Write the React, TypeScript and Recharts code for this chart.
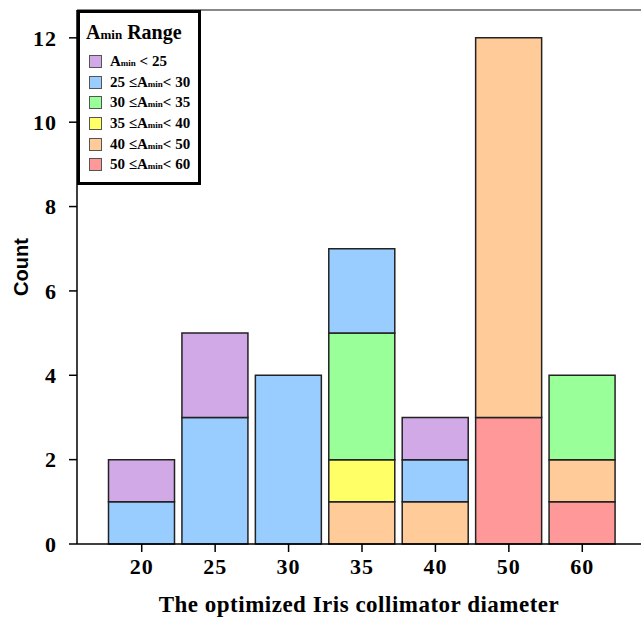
import React from 'react';
import {
  BarChart,
  Bar,
  XAxis,
  YAxis,
  Legend,
  ReferenceLine,
} from 'recharts';

const diameters = ['20', '25', '30', '35', '40', '50', '60'];
const below25 = [1, 2, 0, 0, 1, 0, 0];
const from25to30 = [1, 3, 4, 2, 1, 0, 0];
const from30to35 = [0, 0, 0, 3, 0, 0, 2];
const from35to40 = [0, 0, 0, 1, 0, 0, 0];
const from40to50 = [0, 0, 0, 1, 1, 9, 1];
const from50to60 = [0, 0, 0, 0, 0, 3, 1];
const yTicks = [0, 2, 4, 6, 8, 10, 12];
const yMax = 12.66;

// legend order (top to bottom); stacking goes the other way
const ranges = [
  { key: 'r1', lo: '', hi: '25', color: '#D1A9E6', values: below25 },
  { key: 'r2', lo: '25', hi: '30', color: '#99CCFF', values: from25to30 },
  { key: 'r3', lo: '30', hi: '35', color: '#99FF99', values: from30to35 },
  { key: 'r4', lo: '35', hi: '40', color: '#FFFF66', values: from35to40 },
  { key: 'r5', lo: '40', hi: '50', color: '#FFCC99', values: from40to50 },
  { key: 'r6', lo: '50', hi: '60', color: '#FF9999', values: from50to60 },
];

const data = diameters.map((d, i) => {
  const row: Record<string, string | number> = { diameter: d };
  ranges.forEach((r) => {
    row[r.key] = r.values[i];
  });
  return row;
});

const serif = '"Liberation Serif", "Times New Roman", serif';

const RangeLegend = () => (
  <div
    style={{
      width: 124,
      height: 175,
      border: '3px solid #000',
      background: '#fff',
      fontFamily: serif,
      fontWeight: 'bold',
      color: '#000',
      boxSizing: 'border-box',
      padding: '7px 0 0 6px',
    }}
  >
    <div style={{ fontSize: 20, lineHeight: '24px', marginBottom: 4, whiteSpace: 'nowrap' }}>
      A<span style={{ fontSize: 13 }}>min</span> Range
    </div>
    {ranges.map((r) => (
      <div
        key={r.key}
        style={{
          display: 'flex',
          alignItems: 'center',
          height: 20.7,
          fontSize: 15,
          whiteSpace: 'nowrap',
        }}
      >
        <span
          style={{
            display: 'inline-block',
            width: 11,
            height: 11,
            background: r.color,
            border: '1px solid #555',
            marginLeft: 3,
            marginRight: 8,
          }}
        />
        {r.lo ? <span>{r.lo} ≤</span> : null}
        <span>
          A<span style={{ fontSize: 9 }}>min</span>
        </span>
        <span>{r.lo ? '' : '\u00a0'}&lt; {r.hi}</span>
      </div>
    ))}
  </div>
);

export default function App() {
  return (
    <div style={{ position: 'absolute', left: 0, top: 0, width: 641, height: 619, background: '#fff' }}>
      <style>{'html,body{margin:0;overflow:hidden;}'}</style>
      <BarChart
        width={641}
        height={619}
        data={data}
        margin={{ top: 10, right: 0, bottom: 0, left: 0 }}
        barCategoryGap={3.5}
      >
        <XAxis
          dataKey="diameter"
          height={75}
          padding={{ left: 28, right: 22 }}
          stroke="#000"
          strokeWidth={1.5}
          tickSize={8}
          tickMargin={6}
          tick={{ fill: '#000', fontSize: 22, fontWeight: 'bold', fontFamily: serif, letterSpacing: 1 }}
          label={{
            value: 'The optimized Iris collimator diameter',
            position: 'insideBottom',
            offset: 7,
            fill: '#000',
            fontSize: 23,
            fontWeight: 'bold',
            fontFamily: serif,
            letterSpacing: 0.5,
          }}
        />
        <YAxis
          width={77}
          domain={[0, yMax]}
          ticks={yTicks}
          stroke="#000"
          strokeWidth={1.5}
          tickSize={8}
          tickMargin={12}
          tick={{ fill: '#000', fontSize: 22, fontWeight: 'bold', fontFamily: serif, letterSpacing: 1 }}
          label={{
            value: 'Count',
            angle: -90,
            position: 'center',
            dx: -18,
            dy: -10,
            fill: '#000',
            fontSize: 20,
            fontWeight: 'bold',
            fontFamily: '"Liberation Sans", Arial, sans-serif',
          }}
        />
        <ReferenceLine y={yMax} stroke="#888" strokeWidth={2} />
        {[...ranges].reverse().map((r) => (
          <Bar
            key={r.key}
            dataKey={r.key}
            stackId="a"
            fill={r.color}
            stroke="#222"
            strokeWidth={1.5}
            isAnimationActive={false}
          />
        ))}
        <Legend
          layout="vertical"
          align="center"
          verticalAlign="middle"
          content={() => <RangeLegend />}
          wrapperStyle={{ top: 10, left: 77, width: 'auto' }}
        />
      </BarChart>
    </div>
  );
}
